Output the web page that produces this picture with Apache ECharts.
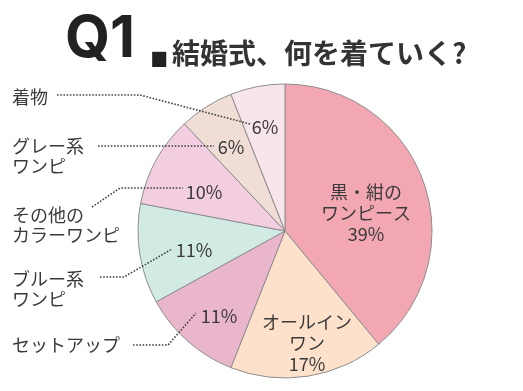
<!DOCTYPE html>
<html><head><meta charset="utf-8">
<script src="https://cdn.jsdelivr.net/npm/echarts@6/dist/echarts.min.js"></script>
<style>html,body{margin:0;padding:0;background:#fff}#c{width:523px;height:391px}</style>
</head><body><div id="c"></div>
<script>
// ---- data ----
const categories = ['黒・紺のワンピース', 'オールインワン', 'セットアップ', 'ブルー系ワンピ', 'その他のカラーワンピ', 'グレー系ワンピ', '着物'];
const values = [39, 17, 11, 11, 10, 6, 6];
const insideLabels = ['黒・紺の\nワンピース', 'オールイン\nワン', '', '', '', '', ''];
const outsideLabels = ['', '', 'セットアップ', 'ブルー系\nワンピ', 'その他の\nカラーワンピ', 'グレー系\nワンピ', '着物'];
const titleMain = 'Q1';
const titleSub = '結婚式、何を着ていく?';

// ---- styles / layout ----
const colors = ['#f3a7b2', '#fde1ca', '#e9b6cb', '#d1ebe4', '#f2cee0', '#f0ded6', '#f7e5eb'];
const labelPos = [[366, 213], [307, 343], [219, 316], [194, 250], [204, 192], [231, 147], [265, 127]];
const namePos = [null, null, [12, 345], [12, 289], [12, 225], [12, 156], [12, 97]];
const leaders = [null, null,
  [[133, 345], [168, 345], [196, 313]],
  [[100, 277], [124, 277], [172, 249]],
  [[92, 207], [120, 188], [183, 188]],
  [[98, 146], [214, 146]],
  [[57, 95], [140, 95], [250, 124]]
];
const textColor = '#3a3a3a';
const jp = '"Noto Sans CJK JP", "Noto Sans", sans-serif';

const chart = echarts.init(document.getElementById('c'), null, {renderer: 'canvas'});

const graphics = [
  {type: 'text', z: 100, style: {x: 65, y: 40, text: titleMain, fill: '#222', font: 'bold 58px Inter, "Liberation Sans", sans-serif', verticalAlign: 'middle'}},
  {type: 'text', z: 100, style: {x: 144, y: 46, text: '.', fill: '#222', font: 'bold 80px "DejaVu Sans", sans-serif', verticalAlign: 'middle'}},
  {type: 'text', z: 100, style: {x: 172, y: 53, text: titleSub, fill: '#333', font: 'bold 28px ' + jp, verticalAlign: 'middle'}}
];
outsideLabels.forEach((t, i) => {
  if (!t) return;
  graphics.push({type: 'text', z: 100, style: {x: namePos[i][0], y: namePos[i][1], text: t, fill: textColor,
    font: '18px ' + jp, lineHeight: 20, verticalAlign: 'middle', align: 'left'}});
  graphics.push({type: 'polyline', z: 100, shape: {points: leaders[i]},
    style: {stroke: '#444', lineWidth: 1.6, lineDash: [1.6, 1.6], fill: null}});
});

chart.setOption({
  backgroundColor: '#fff',
  animation: false,
  series: [{
    type: 'pie',
    center: [285, 231],
    radius: 147,
    startAngle: 90,
    clockwise: true,
    avoidLabelOverlap: false,
    data: categories.map((c, i) => ({name: c, value: values[i], itemStyle: {color: colors[i]}})),
    itemStyle: {borderColor: '#8e8e8e', borderWidth: 1},
    label: {
      show: true,
      position: 'inside',
      color: textColor,
      fontSize: 18,
      lineHeight: 21,
      fontFamily: jp,
      align: 'center',
      formatter: p => (insideLabels[p.dataIndex] ? insideLabels[p.dataIndex] + '\n' : '') + p.value + '%'
    },
    labelLine: {show: false},
    labelLayout: p => ({x: labelPos[p.dataIndex][0], y: labelPos[p.dataIndex][1], align: 'center', verticalAlign: 'middle'}),
    emphasis: {disabled: true}
  }],
  graphic: graphics
});
</script></body></html>
